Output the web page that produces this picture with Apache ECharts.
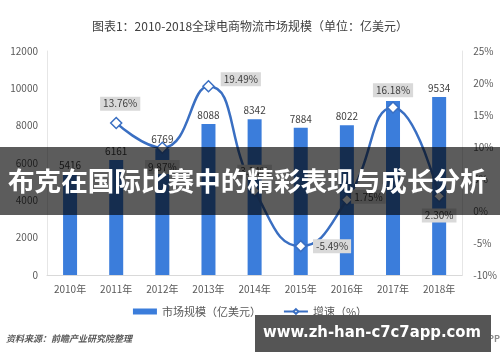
<!DOCTYPE html>
<html><head><meta charset="utf-8">
<script src="https://cdn.jsdelivr.net/npm/echarts@6/dist/echarts.min.js"></script>
<style>html,body{margin:0;padding:0;background:#fff}#c{width:500px;height:362px}</style>
</head><body><div id="c"></div>
<script>
var categories = ['2010年','2011年','2012年','2013年','2014年','2015年','2016年','2017年','2018年'];
var marketSize = [5416, 6161, 6769, 8088, 8342, 7884, 8022, 9320, 9534];
var growth = [null, 13.76, 9.87, 19.49, 3.14, -5.49, 1.75, 16.18, 2.30];
var leftTicks = [0, 2000, 4000, 6000, 8000, 10000, 12000];
var rightTicks = [-10, -5, 0, 5, 10, 15, 20, 25];

var labelPos = [null, 'top', 'bottom', 'right', 'top', 'right', 'right', 'top', 'bottom'];
var labelOffset = [null, [4, 0], [0, 0], [0, -7], [0, 0], [0, 0], [-8, -3], [0, 2], [0, 0]];
var hiddenBarLabel = [false, false, false, false, false, false, false, true, false];
var FONT = '"Noto Sans CJK SC", "Noto Sans", sans-serif';
var chart = echarts.init(document.getElementById('c'), null, {renderer: 'canvas'});
var lineData = growth.map(function (v, i) {
  if (v === null) return '-';
  return {value: v, label: {position: labelPos[i], offset: labelOffset[i]}};
});
var barData = marketSize.map(function (v, i) {
  return hiddenBarLabel[i] ? {value: v, label: {show: false}} : v;
});
chart.setOption({
  animation: false,
  textStyle: {fontFamily: FONT},
  title: {
    text: '图表1：2010-2018全球电商物流市场规模（单位：亿美元）',
    left: 'center', top: 15,
    textStyle: {fontSize: 12, fontWeight: 'normal', color: '#404040', fontFamily: FONT}
  },
  grid: {left: 47, right: 37, top: 51, bottom: 87},
  legend: {
    bottom: 40, left: 'center', itemGap: 22, itemWidth: 24, itemHeight: 6,
    textStyle: {fontSize: 11, color: '#595959', fontFamily: FONT},
    data: [
      {name: '市场规模（亿美元）', icon: 'rect'},
      {name: '增速（%）'}
    ]
  },
  xAxis: {
    type: 'category', data: categories,
    axisLine: {lineStyle: {color: '#d9d9d9'}},
    axisTick: {show: false},
    axisLabel: {fontSize: 10, color: '#595959', margin: 9}
  },
  yAxis: [{
    type: 'value', min: leftTicks[0], max: leftTicks[leftTicks.length - 1], interval: 2000,
    axisLine: {show: true, lineStyle: {color: '#e6e6e6'}},
    axisTick: {show: false}, splitLine: {show: false},
    axisLabel: {fontSize: 10, color: '#595959', margin: 9, formatter: function (v) { return String(v); }}
  }, {
    type: 'value', min: rightTicks[0], max: rightTicks[rightTicks.length - 1], interval: 5,
    axisLine: {show: true, lineStyle: {color: '#e6e6e6'}},
    axisTick: {show: false}, splitLine: {show: false},
    axisLabel: {fontSize: 10, color: '#595959', margin: 11, formatter: '{value}%'}
  }],
  series: [{
    name: '市场规模（亿美元）', type: 'bar', data: barData, barWidth: 14,
    itemStyle: {color: '#3b7ddb'},
    label: {show: true, position: 'top', fontSize: 10, color: '#404040', distance: 4},
    z: 2
  }, {
    name: '增速（%）', type: 'line', yAxisIndex: 1, data: lineData, smooth: 0.5,
    connectNulls: false,
    symbol: 'diamond', symbolSize: 11, showAllSymbol: true,
    lineStyle: {color: '#3a6fc2', width: 2.5},
    itemStyle: {color: '#ffffff', borderColor: '#3a6fc2', borderWidth: 1.5},
    label: {
      show: true, formatter: function (p) { return p.value.toFixed(2) + '%'; },
      fontSize: 10, color: '#404040', backgroundColor: '#d9d9d9',
      padding: [2, 3], distance: 6
    },
    z: 5
  }],
  graphic: [
    {type: 'text', left: 6, top: 334, style: {text: '资料来源：前瞻产业研究院整理', fontSize: 9, fontStyle: 'italic', fontWeight: 'bold', fill: '#595959', fontFamily: FONT}},
    {type: 'text', right: 0, top: 334, style: {text: '前瞻经济学人APP', fontSize: 9, fontWeight: 'bold', fill: '#8c8c8c', fontFamily: FONT}},
    {type: 'rect', shape: {x: 0, y: 147, width: 500, height: 68}, style: {fill: 'rgba(0,0,0,0.64)'}, z: 100},
    {type: 'text', x: 8, y: 181, style: {text: '布克在国际比赛中的精彩表现与成长分析', fontSize: 26.6, fontWeight: 'bold', fill: '#ffffff', fontFamily: FONT, textVerticalAlign: 'middle'}, z: 101},
    {type: 'rect', shape: {x: 255, y: 315, width: 236, height: 37}, style: {fill: '#555555'}, z: 100},
    {type: 'text', x: 372, y: 333, style: {text: 'www.zh-han-c7c7app.com', fontSize: 16.5, fontWeight: 'bold', fill: '#ffffff', fontFamily: '"DejaVu Sans Condensed", "DejaVu Sans", sans-serif', textAlign: 'center', textVerticalAlign: 'middle'}, z: 101}
  ]
});
</script></body></html>
